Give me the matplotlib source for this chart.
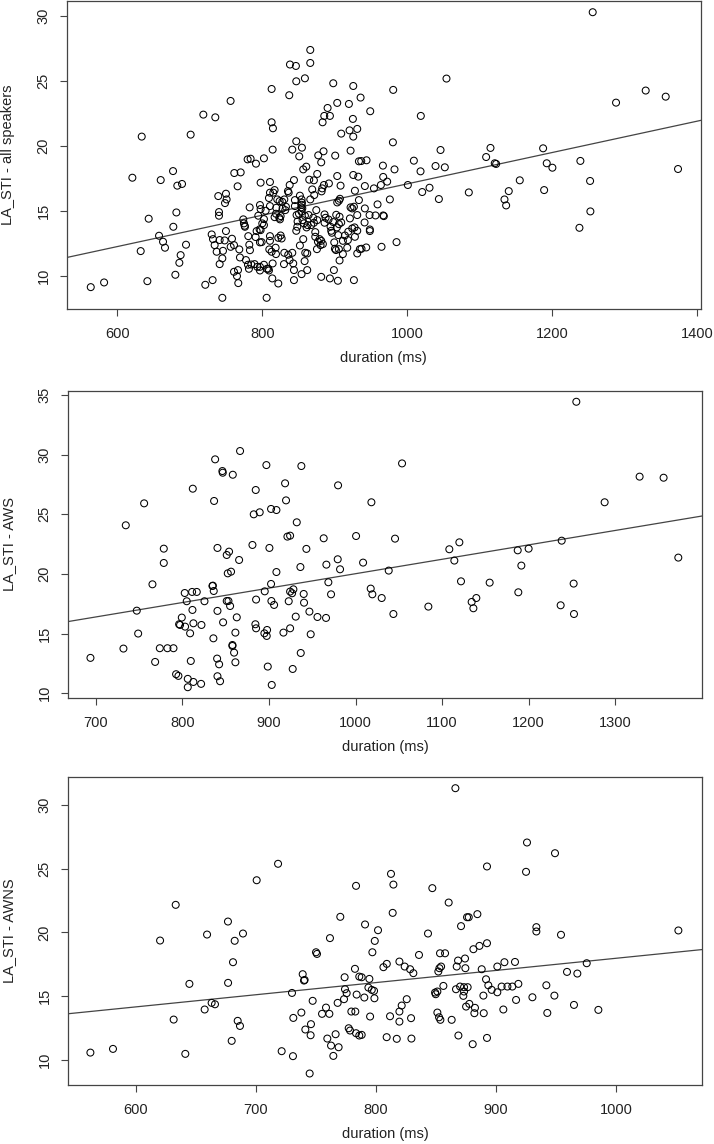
import numpy as np
import matplotlib
matplotlib.use('Agg')
import matplotlib.pyplot as plt

plt.rcParams['font.family'] = ['Liberation Sans', 'DejaVu Sans']

# (duration ms, LA_STI)
all_points = [
    (620.6, 17.54), (633.5, 20.70), (659.7, 17.36), (676.7, 18.05), (682.6, 16.93), (689.1, 17.06),
    (701.0, 20.85), (718.5, 22.39), (735.0, 22.18), (756.1, 23.44), (761.2, 17.90), (770.0, 17.95),
    (765.8, 16.88), (779.6, 18.95), (783.7, 19.00), (791.1, 18.62), (802.1, 19.03), (797.5, 17.16),
    (810.4, 17.21), (812.7, 24.36), (812.7, 21.80), (814.5, 21.34), (814.1, 19.70), (837.0, 23.88),
    (838.0, 26.24), (846.2, 26.13), (846.7, 24.95), (858.6, 25.18), (866.0, 27.36), (866.0, 26.36),
    (846.7, 20.34), (854.5, 19.85), (841.2, 19.70), (850.8, 19.18), (856.3, 18.18), (860.5, 18.39),
    (875.6, 17.83), (864.6, 17.39), (871.0, 17.34), (877.0, 19.26), (881.1, 18.72), (884.3, 19.57),
    (883.0, 21.80), (885.3, 22.29), (889.9, 22.90), (893.1, 22.29), (897.7, 24.80), (903.2, 23.29),
    (900.4, 19.24), (903.2, 17.67), (908.7, 20.93), (919.3, 23.21), (921.6, 19.62), (920.2, 21.18),
    (924.8, 22.06), (925.3, 20.70), (925.3, 24.59), (930.8, 21.29), (925.3, 17.75), (932.2, 17.62),
    (933.1, 18.80), (935.4, 23.70), (837.6, 16.98), (843.5, 17.36), (884.8, 16.98), (891.7, 17.10),
    (907.8, 16.93),
    (1255.6, 30.26), (1053.9, 25.16), (980.4, 24.29), (948.7, 22.65), (1018.5, 22.29), (980.0, 20.26),
    (1045.7, 19.67), (943.6, 18.88), (936.3, 18.82), (966.2, 18.47), (982.2, 18.18), (1008.9, 18.85),
    (1018.1, 18.03), (1038.8, 18.44), (1051.6, 18.34), (1114.6, 19.83), (1108.6, 19.13), (1120.5, 18.65),
    (1122.4, 18.60), (1187.2, 19.80), (1192.2, 18.65), (1200.0, 18.31), (1238.6, 18.83), (1287.8, 23.31),
    (1328.7, 24.24), (1356.3, 23.77), (1373.3, 18.21), (1252.0, 17.29), (1155.0, 17.34), (966.6, 17.60),
    (972.1, 17.24), (963.4, 16.98), (941.3, 16.90), (1000.6, 16.98),
    (643.1, 14.39), (657.4, 13.08), (662.9, 12.62), (665.6, 12.16), (632.1, 11.90), (677.1, 13.77),
    (681.3, 14.87), (694.6, 12.39), (687.2, 11.59), (685.4, 11.00), (679.9, 10.08), (641.3, 9.59),
    (581.6, 9.49), (563.2, 9.13), (721.2, 9.31), (731.3, 9.67), (744.7, 8.31), (805.8, 8.31),
    (739.1, 16.13), (749.7, 16.31), (750.6, 15.87), (748.4, 15.59), (740.1, 14.90), (740.1, 14.62),
    (730.0, 13.18), (731.8, 12.82), (734.1, 12.36), (741.0, 12.75), (747.9, 12.72), (758.0, 12.85),
    (736.9, 11.85), (745.6, 11.92), (744.7, 11.34), (741.0, 10.90), (749.7, 13.44), (756.2, 12.23),
    (760.8, 12.36), (768.1, 12.03), (769.0, 11.41), (760.8, 10.31), (766.3, 10.44), (764.9, 9.98),
    (766.7, 9.44), (773.6, 14.34), (774.5, 14.03), (775.9, 13.77), (775.5, 13.85), (782.4, 15.26),
    (780.5, 13.05), (781.9, 12.39), (782.8, 11.97), (777.3, 11.21), (780.1, 10.85), (784.6, 10.87),
    (781.4, 10.54), (790.6, 12.98), (792.0, 13.44), (796.1, 13.57), (797.5, 13.51), (789.2, 10.90),
    (792.9, 10.69), (796.6, 10.69), (796.6, 10.41), (802.1, 10.85), (806.2, 10.54), (808.1, 10.54),
    (809.0, 10.41), (794.3, 14.62), (802.1, 14.36), (796.6, 15.44), (797.5, 15.13), (804.4, 15.00),
    (810.4, 15.36), (809.0, 15.98), (810.4, 16.39), (799.8, 14.03), (802.1, 13.90), (796.6, 12.57),
    (798.9, 12.59), (810.4, 13.05), (810.4, 12.69), (809.5, 12.03), (812.7, 11.85), (818.2, 12.16),
    (818.7, 11.67), (815.0, 16.39), (816.8, 16.59), (820.5, 15.87), (819.1, 15.23), (818.7, 14.77),
    (816.8, 14.51), (814.1, 10.95), (813.6, 9.80), (821.9, 9.41),
    (823.7, 15.74), (827.4, 15.69), (830.2, 15.87), (827.8, 15.18), (825.1, 14.59), (823.3, 14.46),
    (824.2, 14.34), (831.5, 15.05), (832.4, 15.31), (835.2, 16.51), (836.2, 16.39), (825.1, 13.10),
    (821.9, 12.92), (826.5, 12.87), (830.2, 11.77), (835.6, 11.62), (829.7, 10.90), (842.5, 10.95),
    (843.5, 9.67), (841.2, 11.77), (843.5, 10.44), (837.5, 11.21),
    (844.8, 15.82), (844.8, 15.36), (847.1, 14.67), (848.5, 14.18), (848.1, 13.77), (846.7, 13.46),
    (850.4, 14.77), (851.7, 16.16), (854.0, 15.87), (854.5, 15.62), (854.0, 15.46), (853.6, 15.26),
    (855.0, 15.18), (854.0, 14.92), (858.6, 14.62), (856.3, 12.82), (851.7, 12.33), (859.1, 11.77),
    (861.8, 11.72), (858.2, 11.13), (861.8, 10.44), (854.0, 10.13), (855.4, 14.28), (857.2, 14.03),
    (862.3, 13.90), (860.9, 13.72), (867.3, 13.90), (871.0, 14.08), (868.7, 16.64), (871.5, 16.21),
    (866.0, 15.87), (863.7, 14.67), (874.3, 15.05), (872.9, 13.36), (872.9, 13.00), (878.9, 12.82),
    (876.6, 12.62), (875.2, 12.05), (880.2, 12.36), (883.4, 12.44), (881.1, 12.69), (870.1, 14.46),
    (875.6, 14.28), (885.7, 14.08), (887.1, 14.46), (885.7, 14.72), (891.2, 14.33), (894.0, 13.77),
    (894.9, 13.46), (895.8, 13.31), (897.7, 14.13), (882.5, 16.72), (881.6, 16.49),
    (881.1, 9.92), (893.1, 9.80), (904.1, 9.62), (898.6, 10.44), (906.4, 11.18), (911.0, 11.67),
    (917.0, 12.16), (900.0, 12.08), (899.1, 12.57), (901.4, 11.98), (905.5, 12.05), (911.0, 12.69),
    (904.6, 13.13), (905.5, 13.97), (902.7, 13.72), (913.8, 13.10), (918.4, 13.39), (903.2, 15.64),
    (905.5, 15.77), (906.9, 15.92), (901.8, 14.69), (906.4, 14.54), (908.7, 14.10), (920.7, 14.41),
    (923.9, 13.64), (927.1, 13.72), (930.8, 13.46), (921.6, 15.26), (923.9, 15.18), (926.2, 15.31),
    (927.6, 16.54), (930.8, 14.67), (933.1, 15.82), (926.2, 9.67), (930.8, 11.72), (934.4, 12.05),
    (917.9, 12.75), (927.6, 13.00),
    (953.8, 16.72), (1020.4, 16.44), (1030.5, 16.77), (1043.4, 15.90), (1084.7, 16.41), (1139.8, 16.51),
    (1133.9, 15.87), (1136.2, 15.41), (1188.6, 16.59), (1252.4, 14.95), (1237.3, 13.69), (975.8, 15.87),
    (958.8, 15.49), (941.3, 15.18), (947.8, 14.67), (956.0, 14.64), (966.6, 14.64), (967.5, 14.59),
    (940.9, 14.10), (948.2, 13.56), (948.2, 13.44), (936.7, 12.08), (943.2, 12.18), (964.3, 12.23),
    (985.0, 12.59),
]

aws_points = [
    (734.6, 24.08), (755.8, 25.92), (812.0, 27.15), (778.5, 22.12), (837.8, 29.61), (836.6, 26.12),
    (846.2, 28.63), (846.6, 28.49), (858.2, 28.32), (866.6, 30.31), (897.0, 29.13), (937.4, 29.05),
    (918.6, 27.60), (884.7, 27.04), (919.7, 26.17), (882.4, 25.00), (889.3, 25.17), (902.4, 25.45),
    (908.6, 25.36), (932.1, 24.33), (921.3, 23.13), (924.4, 23.21), (880.9, 22.43), (900.5, 22.18),
    (943.2, 22.10), (963.2, 22.99), (979.8, 27.43), (1000.6, 23.18), (840.5, 22.18), (851.2, 21.59),
    (853.9, 21.87), (865.5, 21.17), (979.4, 21.23),
    (1255.0, 34.44), (1053.7, 29.27), (1018.3, 26.01), (1328.1, 28.16), (1355.8, 28.07), (1287.7, 26.01),
    (1045.6, 22.96), (1108.3, 22.07), (1119.9, 22.65), (1114.1, 21.12), (1187.3, 21.98), (1199.9, 22.12),
    (1238.1, 22.79), (1372.8, 21.37),
    (778.5, 20.92), (765.4, 19.13), (747.3, 16.92), (748.9, 15.00), (693.8, 12.96), (731.9, 13.74),
    (773.9, 13.77), (782.7, 13.77), (789.7, 13.77), (768.5, 12.62), (792.7, 11.59), (795.4, 11.45),
    (806.2, 11.20), (806.2, 10.50), (812.7, 10.94), (821.6, 10.78), (809.7, 12.70), (802.7, 18.40),
    (805.0, 17.71), (811.2, 18.49), (816.6, 18.49), (811.6, 16.98), (799.3, 16.34), (796.2, 15.78),
    (797.3, 15.72), (803.1, 15.58), (808.9, 15.02), (812.7, 15.86), (822.0, 15.72), (825.5, 17.71),
    (834.7, 18.99), (835.2, 19.02), (836.2, 18.57), (840.5, 16.90), (835.8, 14.60), (840.1, 12.90),
    (842.4, 12.42), (840.5, 11.42), (843.5, 11.00), (847.0, 15.94), (851.2, 17.73), (853.2, 17.73),
    (855.1, 17.31), (852.4, 20.05), (856.2, 20.19), (857.8, 14.04), (857.8, 13.96), (859.7, 13.40),
    (861.2, 12.59), (861.2, 15.08), (862.8, 16.36), (885.1, 17.85), (884.3, 15.78), (885.1, 15.44),
    (895.1, 18.54), (894.7, 15.02), (897.4, 14.80), (897.8, 15.30), (898.6, 12.23), (903.2, 10.69),
    (902.4, 19.16), (902.8, 17.73), (905.9, 17.40), (908.6, 20.16), (916.7, 15.08), (924.4, 15.44),
    (922.8, 17.71), (924.4, 18.52), (926.7, 18.38), (928.2, 18.71), (927.4, 12.03), (930.9, 16.42),
    (936.3, 20.58), (936.7, 13.37), (940.1, 18.32), (940.5, 17.59), (946.7, 16.84), (948.2, 14.94),
    (956.0, 16.39), (965.9, 16.31), (966.3, 20.78), (982.1, 20.39), (971.7, 18.29), (968.6, 19.30),
    (1008.7, 20.95), (1038.3, 20.28), (1017.5, 18.77), (1019.4, 18.29), (1030.2, 17.98), (1043.7, 16.64),
    (1084.1, 17.26), (1121.8, 19.38), (1154.9, 19.27), (1134.1, 17.65), (1139.5, 17.98), (1136.1, 17.12),
    (1188.0, 18.46), (1191.5, 20.70), (1236.9, 17.37), (1251.9, 19.19), (1252.3, 16.64),
]

awns_points = [
    (620.3, 19.36), (633.3, 22.16), (659.4, 19.83), (676.8, 20.85), (682.4, 19.34), (689.3, 19.91),
    (700.7, 24.09), (718.5, 25.38), (761.7, 19.55), (770.3, 21.22), (783.4, 23.65),
    (866.1, 31.31), (925.7, 27.05), (949.0, 26.21), (892.4, 25.17), (924.9, 24.75), (812.5, 24.59),
    (814.5, 23.75), (846.9, 23.47), (860.5, 22.34), (813.9, 21.53), (875.8, 21.19), (877.2, 21.19),
    (884.4, 21.43), (870.8, 20.49), (790.9, 20.62), (801.7, 20.17), (843.3, 19.91), (933.5, 20.41),
    (933.5, 20.07), (954.0, 19.81), (1051.7, 20.15),
    (750.1, 18.44), (750.9, 18.31), (782.5, 17.14), (773.9, 16.48), (786.1, 16.53), (644.7, 15.96),
    (676.9, 16.04), (681.0, 17.66), (739.0, 16.72), (740.1, 16.22), (740.6, 16.27), (730.1, 15.25),
    (774.2, 15.54), (775.6, 15.23), (783.9, 15.12), (747.3, 14.63), (768.1, 14.47), (773.4, 14.76),
    (758.4, 14.10), (755.1, 13.61), (761.2, 13.61), (779.5, 13.79), (782.8, 13.79), (737.9, 13.71),
    (731.2, 13.29), (745.9, 12.80), (741.2, 12.38), (745.6, 11.93), (766.4, 12.01), (777.3, 12.48),
    (778.4, 12.30), (783.4, 12.09), (786.1, 11.91), (759.5, 11.67), (762.6, 11.12), (768.9, 10.99),
    (764.5, 10.31), (721.5, 10.68), (730.9, 10.29), (744.8, 8.93), (684.9, 13.06), (686.8, 12.66),
    (679.9, 11.49), (631.6, 13.16), (657.4, 13.95), (663.2, 14.47), (666.0, 14.36), (641.3, 10.47),
    (581.1, 10.86), (562.3, 10.57),
    (799.0, 19.33), (797.0, 18.44), (892.4, 19.15), (886.1, 18.94), (881.1, 18.68), (835.8, 18.23),
    (853.3, 18.36), (857.5, 18.36), (868.3, 17.79), (874.1, 17.95), (809.0, 17.53), (806.2, 17.27),
    (819.5, 17.71), (823.9, 17.32), (828.4, 17.11), (831.1, 16.80), (852.8, 17.19), (851.9, 16.93),
    (854.2, 17.32), (867.2, 17.32), (874.4, 17.19), (888.0, 17.11), (901.0, 17.32), (906.9, 17.66),
    (915.7, 17.68), (959.0, 16.90), (967.6, 16.77), (975.4, 17.58), (788.1, 16.48), (794.5, 16.35),
    (793.7, 15.67), (796.5, 15.49), (798.4, 15.41), (790.3, 14.89), (798.7, 14.83), (795.1, 13.40),
    (811.7, 13.42), (819.5, 13.79), (821.4, 14.26), (825.6, 14.76), (819.5, 13.00), (829.2, 13.27),
    (808.9, 11.78), (817.3, 11.65), (829.5, 11.67), (788.1, 11.96), (849.2, 15.28), (849.7, 15.15),
    (851.1, 15.36), (856.1, 15.80), (851.1, 13.71), (852.5, 13.34), (853.6, 13.14), (863.0, 13.14),
    (866.6, 15.54), (870.0, 15.75), (873.3, 15.70), (876.3, 15.70), (873.3, 15.36), (872.7, 15.02),
    (875.0, 14.18), (877.7, 14.39), (882.4, 14.08), (881.9, 13.66), (868.6, 11.91), (880.5, 11.23),
    (892.4, 11.72), (889.7, 13.66), (889.4, 15.04), (891.6, 16.32), (893.5, 15.85), (896.3, 15.49),
    (901.0, 15.30), (904.6, 15.75), (909.4, 15.75), (913.5, 15.75), (918.5, 15.96), (916.6, 14.70),
    (906.0, 13.95), (930.2, 14.91), (941.8, 15.85), (948.5, 15.04), (942.6, 13.68), (964.8, 14.31),
    (985.1, 13.92),
]

# regression lines (intercept, slope) as drawn by abline
fit_all = (5.02, 0.01205)
fit_aws = (7.93, 0.01209)
fit_awns = (8.43, 0.00954)

ylabels = ['LA_STI - all speakers', 'LA_STI - AWS', 'LA_STI - AWNS']
xticks_list = [[600, 800, 1000, 1200, 1400],
               [700, 800, 900, 1000, 1100, 1200, 1300],
               [600, 700, 800, 900, 1000]]
yticks_list = [[10, 15, 20, 25, 30],
               [10, 15, 20, 25, 30, 35],
               [10, 15, 20, 25, 30]]
xlims = [(530, 1405), (667.5, 1400.5), (543.4, 1071.6)]
ylims = [(7.45, 31.12), (9.57, 35.37), (8.03, 32.17)]

FG = '#444444'


def draw_panel(ax, points, fit, ylabel, xticks, yticks, xlim, ylim):
    pts = np.array(points)
    ax.scatter(pts[:, 0], pts[:, 1], s=25, facecolors='none', edgecolors='black', linewidths=0.75, zorder=3)

    ax.set_xlim(xlim)
    ax.set_ylim(ylim)
    # abline across the plot region
    xs = np.array(xlim)
    ax.plot(xs, fit[0] + fit[1] * xs, color=FG, linewidth=0.9, zorder=2)

    ax.set_xticks(xticks)
    ax.set_yticks(yticks)
    ax.set_yticklabels([str(t) for t in yticks], rotation=90, va='center')
    ax.tick_params(axis='both', direction='out', length=5, width=0.8, color=FG,
                   labelsize=10.5, labelcolor='#222222')
    ax.tick_params(axis='x', pad=8)
    ax.tick_params(axis='y', pad=6.5)
    for sp in ax.spines.values():
        sp.set_color(FG)
        sp.set_linewidth(0.9)

    ax.set_xlabel('duration (ms)', fontsize=10.5, color='#222222', va='center')
    ax.xaxis.set_label_coords(0.5, -0.159)
    ax.set_ylabel(ylabel, fontsize=10.5, color='#222222', va='center')
    ax.yaxis.set_label_coords(-0.092, 0.5)


fig = plt.figure(figsize=(7.14, 11.44), dpi=100)
boxes = [[0.0934, 0.7299, 0.8884, 0.2692],
         [0.0948, 0.3896, 0.8888, 0.2689],
         [0.0948, 0.0516, 0.8888, 0.2690]]
panels = [all_points, aws_points, awns_points]
fits = [fit_all, fit_aws, fit_awns]

for i in range(3):
    ax = fig.add_axes(boxes[i])
    draw_panel(ax, panels[i], fits[i], ylabels[i], xticks_list[i], yticks_list[i], xlims[i], ylims[i])

fig.savefig('out.png', dpi=100)
plt.close(fig)
